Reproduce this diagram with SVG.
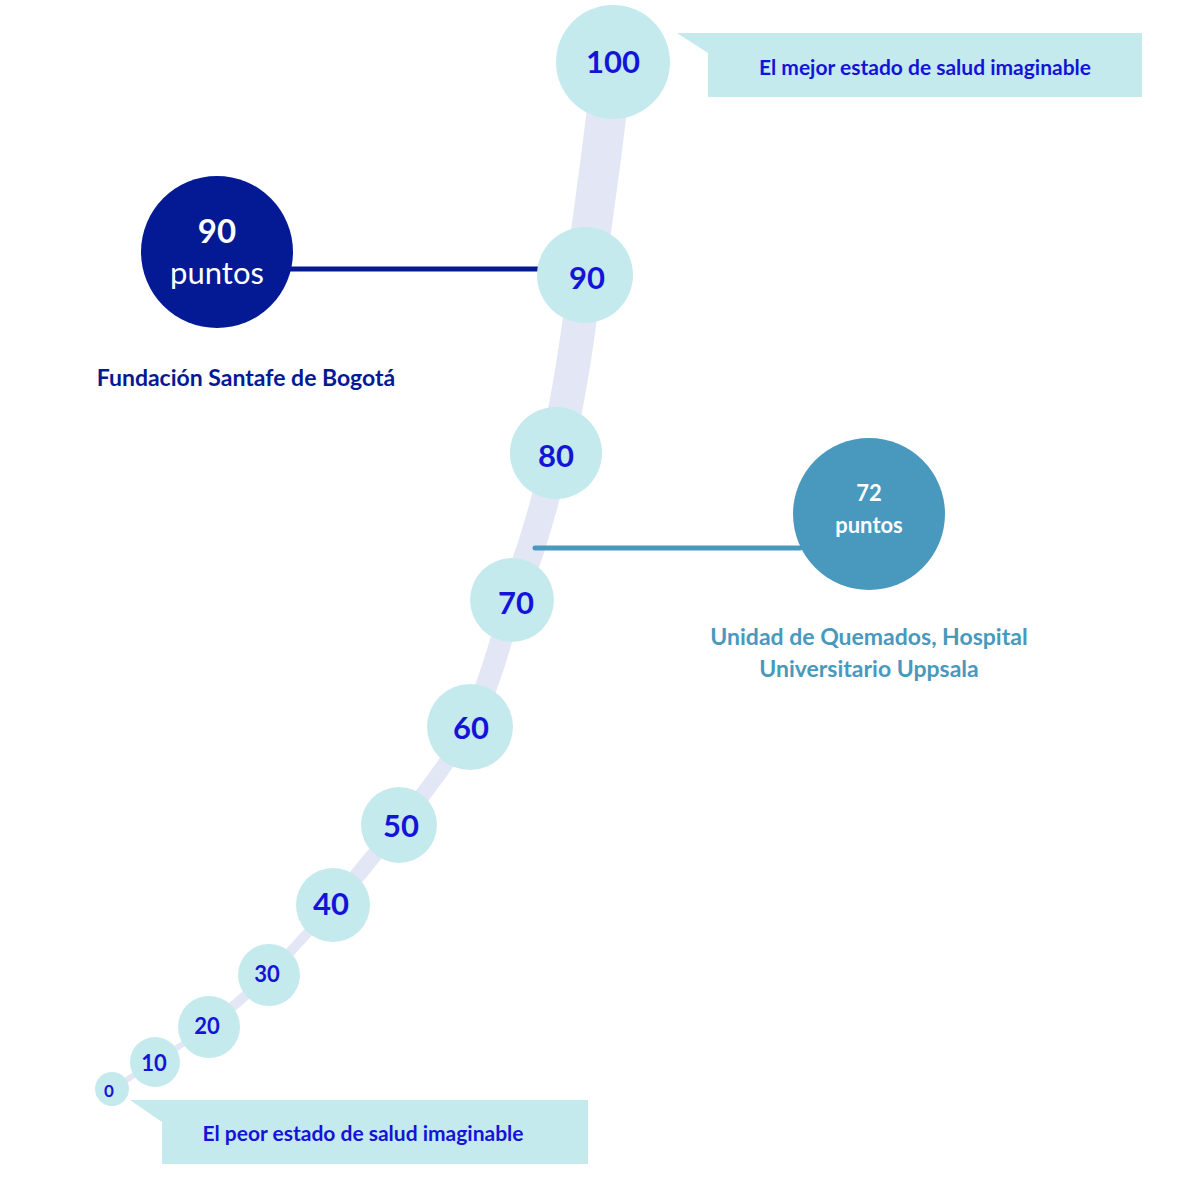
<svg xmlns="http://www.w3.org/2000/svg" width="1200" height="1200" viewBox="0 0 1200 1200">
<style>
.t{font-family:Lato,"Noto Sans",sans-serif;font-weight:700;text-anchor:middle}
.s{fill:#c5eaed}
.n{fill:#1414d8}
.track{fill:none;stroke:#e3e6f5;stroke-linecap:round}
</style>
<rect width="1200" height="1200" fill="#fff"/>
<g id="track">
<path class="track" stroke-width="6" d="M112,1089 L155,1062 L209,1027"/>
<path class="track" stroke-width="10" d="M209,1027 L269,975 L333,905"/>
<path class="track" stroke-width="16" d="M333,905 L399,825 Q440,775 470,727"/>
<path class="track" stroke-width="22" d="M470,727 Q495,670 512,600"/>
<path class="track" stroke-width="28" d="M512,600 Q540,530 556,453"/>
<path class="track" stroke-width="34" d="M556,453 Q575,370 585,275"/>
<path class="track" stroke-width="40" d="M585,275 Q600,170 613,62"/>
</g>
<g id="connectors">
<line x1="290" y1="269" x2="547" y2="269" stroke="#041a94" stroke-width="5" stroke-linecap="round"/>
<line x1="535" y1="548" x2="800" y2="548" stroke="#4899bd" stroke-width="5" stroke-linecap="round"/>
</g>
<g id="callout-top">
<polygon points="677,33 1142,33 1142,97 708,97 708,53" class="s"/>
<text x="925" y="75" class="t n" font-size="21">El mejor estado de salud imaginable</text>
</g>
<g id="callout-bottom">
<polygon points="130,1100 588,1100 588,1164 162,1164 162,1122" class="s"/>
<text x="363" y="1141" class="t n" font-size="21">El peor estado de salud imaginable</text>
</g>
<g id="s100"><circle cx="613" cy="62" r="57" class="s"/><text x="613" y="73" class="t n" font-size="31">100</text></g>
<g id="s90"><circle cx="585" cy="275" r="48" class="s"/><text x="587" y="289" class="t n" font-size="31">90</text></g>
<g id="s80"><circle cx="556" cy="453" r="46" class="s"/><text x="556" y="467" class="t n" font-size="31">80</text></g>
<g id="s70"><circle cx="512" cy="600" r="42" class="s"/><text x="516" y="614" class="t n" font-size="31">70</text></g>
<g id="s60"><circle cx="470" cy="727" r="43" class="s"/><text x="471" y="739" class="t n" font-size="31">60</text></g>
<g id="s50"><circle cx="399" cy="825" r="38" class="s"/><text x="401" y="837" class="t n" font-size="31">50</text></g>
<g id="s40"><circle cx="333" cy="905" r="37" class="s"/><text x="331" y="915" class="t n" font-size="31">40</text></g>
<g id="s30"><circle cx="269" cy="975" r="31" class="s"/><text x="267" y="982" class="t n" font-size="22">30</text></g>
<g id="s20"><circle cx="209" cy="1027" r="31" class="s"/><text x="207" y="1034" class="t n" font-size="22">20</text></g>
<g id="s10"><circle cx="155" cy="1062" r="25" class="s"/><text x="154" y="1071" class="t n" font-size="22">10</text></g>
<g id="s0"><circle cx="112" cy="1089" r="17" class="s"/><text x="109" y="1097" class="t n" font-size="17">0</text></g>
<g id="fsb">
<circle cx="217" cy="252" r="76" fill="#041a94"/>
<text x="217" y="243" class="t" fill="#fff" font-size="33">90</text>
<text x="217" y="284" font-family="Lato,'Noto Sans',sans-serif" text-anchor="middle" fill="#fff" font-size="31">puntos</text>
<text x="246" y="386" class="t" fill="#041a94" font-size="23">Fundación Santafe de Bogotá</text>
</g>
<g id="uppsala">
<circle cx="869" cy="514" r="76" fill="#4899bd"/>
<text x="869" y="501" class="t" fill="#fff" font-size="22">72</text>
<text x="869" y="533" class="t" fill="#fff" font-size="22">puntos</text>
<text x="869" y="645" class="t" fill="#4899bd" font-size="23">Unidad de Quemados, Hospital</text>
<text x="869" y="677" class="t" fill="#4899bd" font-size="23">Universitario Uppsala</text>
</g>
</svg>
